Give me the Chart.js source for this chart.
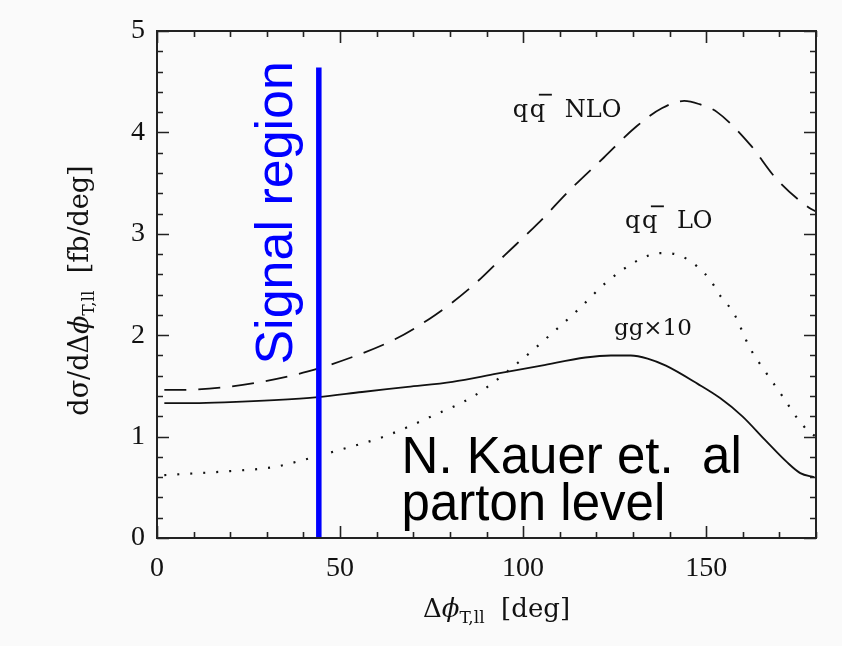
<!DOCTYPE html>
<html>
<head>
<meta charset="utf-8">
<script src="https://cdn.jsdelivr.net/npm/chart.js@4/dist/chart.umd.min.js"></script>
<style>
  html, body { margin: 0; padding: 0; background: #fafafa; }
  canvas { display: block; }
</style>
</head>
<body>
<canvas id="c" width="842" height="646"></canvas>
<script>
// ---- data ----
const nloX = [2, 5, 18, 30, 41, 53, 65, 76, 86, 95, 104, 113, 122, 131, 138, 144, 148, 153, 162, 169, 178, 180];
const nloY = [1.46, 1.46, 1.485, 1.55, 1.64, 1.78, 1.96, 2.20, 2.48, 2.79, 3.10, 3.44, 3.75, 4.06, 4.24, 4.31, 4.28, 4.20, 3.88, 3.55, 3.26, 3.22];

const loX = [2, 20, 32, 40, 50, 62, 75, 87, 99, 107, 115, 123, 132, 137.5, 142.5, 147.5, 151, 154, 157.5, 162, 166, 171, 174.5, 178, 180];
const loY = [0.62, 0.66, 0.70, 0.77, 0.87, 1.0, 1.2, 1.41, 1.74, 1.99, 2.25, 2.53, 2.75, 2.81, 2.79, 2.68, 2.55, 2.38, 2.22, 1.87, 1.65, 1.39, 1.20, 1.05, 1.0];

const ggX = [2, 10, 20, 32, 44, 56, 68.5, 80.7, 92.8, 105, 117, 124, 129.4, 134, 139, 147.7, 153.8, 159.9, 166, 172, 175.7, 179.5];
const ggY = [1.33, 1.33, 1.34, 1.36, 1.39, 1.44, 1.49, 1.54, 1.62, 1.70, 1.78, 1.80, 1.80, 1.77, 1.70, 1.52, 1.38, 1.20, 0.97, 0.75, 0.64, 0.60];

const signalX = [44.2, 44.2];
const signalY = [0, 4.64];

const xTicks = [0, 50, 100, 150];
const yTicks = [0, 1, 2, 3, 4, 5];

const labelNLO = 'NLO';
const labelLO = 'LO';
const labelGG = 'gg\u00d710';
const signalText = 'Signal region';
const authorText = ['N. Kauer et.  al', 'parton level'];

// ---- helpers ----
const pts = (xs, ys) => xs.map((x, i) => ({ x: x, y: ys[i] }));

function drawRich(ctx, parts, x, y, align) {
  let total = 0;
  parts.forEach(p => { ctx.font = p.font; p.w = ctx.measureText(p.t).width; total += p.w; });
  let cx = align === 'center' ? x - total / 2 : x;
  parts.forEach(p => {
    ctx.font = p.font;
    ctx.fillText(p.t, cx, y + (p.dy || 0));
    cx += p.w;
  });
}

function drawQQbar(ctx, x, y) {
  ctx.fillText('q', x, y);
  ctx.fillText('q', x + 17, y);
  ctx.beginPath();
  ctx.moveTo(x + 26, y - 22); ctx.lineTo(x + 39, y - 22);
  ctx.stroke();
}

const decor = {
  id: 'decor',
  beforeDraw(chart) {
    const ctx = chart.ctx;
    ctx.save();
    ctx.fillStyle = '#fafafa';
    ctx.fillRect(0, 0, chart.width, chart.height);
    ctx.restore();
  },
  afterDatasetsDraw(chart) {
    const ctx = chart.ctx;
    const a = chart.chartArea;
    const xs = chart.scales.x, ys = chart.scales.y;
    ctx.save();
    ctx.strokeStyle = '#222';
    ctx.lineWidth = 1.6;
    // ticks on all four sides
    ctx.beginPath();
    for (let v = 0; v <= 180; v += 10) {
      const px = Math.round(xs.getPixelForValue(v)) + 0.5;
      const len = v % 50 === 0 ? 12 : 6;
      ctx.moveTo(px, a.bottom); ctx.lineTo(px, a.bottom - len);
      ctx.moveTo(px, a.top); ctx.lineTo(px, a.top + len);
    }
    for (let i = 0; i <= 25; i++) {
      const py = Math.round(ys.getPixelForValue(i * 0.2)) + 0.5;
      const len = i % 5 === 0 ? 12 : 6;
      ctx.moveTo(a.left, py); ctx.lineTo(a.left + len, py);
      ctx.moveTo(a.right, py); ctx.lineTo(a.right - len, py);
    }
    ctx.stroke();
    // frame
    ctx.lineWidth = 2;
    ctx.strokeRect(a.left, a.top, a.right - a.left, a.bottom - a.top);

    // curve labels
    ctx.fillStyle = '#111';
    ctx.strokeStyle = '#111';
    ctx.textBaseline = 'alphabetic';
    ctx.textAlign = 'left';
    ctx.font = '24px "DejaVu Serif"';
    ctx.lineWidth = 1.8;
    // qq NLO
    let by = ys.getPixelForValue(4.155);
    drawQQbar(ctx, xs.getPixelForValue(97.2), by);
    ctx.fillText(labelNLO, xs.getPixelForValue(111.4), by);
    // qq LO
    by = ys.getPixelForValue(3.054);
    drawQQbar(ctx, xs.getPixelForValue(127.8), by);
    ctx.fillText(labelLO, xs.getPixelForValue(142.0), by);
    // gg x10
    ctx.font = '23px "DejaVu Serif"';
    ctx.fillText(labelGG, xs.getPixelForValue(124.8), ys.getPixelForValue(2.0));

    // author text
    ctx.fillStyle = '#000';
    ctx.font = '51px "Liberation Sans"';
    ctx.fillText(authorText[0], xs.getPixelForValue(66.8), ys.getPixelForValue(0.641));
    ctx.fillText(authorText[1], xs.getPixelForValue(66.8), ys.getPixelForValue(0.178));

    // Signal region (rotated)
    ctx.save();
    ctx.translate(xs.getPixelForValue(36.9), ys.getPixelForValue(1.71));
    ctx.rotate(-Math.PI / 2);
    ctx.fillStyle = '#0000ff';
    ctx.font = '52px "Liberation Sans"';
    ctx.fillText(signalText, 0, 0);
    ctx.restore();

    // axis titles
    ctx.fillStyle = '#111';
    const tf = '26px "DejaVu Serif"', sf = '17px "DejaVu Serif"', gf = 'italic 26px "DejaVu Serif"';
    drawRich(ctx, [
      { t: '\u0394', font: tf },
      { t: '\u03d5', font: gf },
      { t: 'T,ll', font: sf, dy: 6 },
      { t: '  [deg]', font: tf }
    ], (a.left + a.right) / 2 + 10, 617, 'center');

    ctx.save();
    ctx.translate(88, (a.top + a.bottom) / 2 + 6);
    ctx.rotate(-Math.PI / 2);
    drawRich(ctx, [
      { t: 'd\u03c3/d\u0394', font: '27px "DejaVu Serif"' },
      { t: '\u03d5', font: 'italic 27px "DejaVu Serif"' },
      { t: 'T,ll', font: sf, dy: 6 },
      { t: '  [fb/deg]', font: '27px "DejaVu Serif"' }
    ], 0, 0, 'center');
    ctx.restore();
    ctx.restore();
  }
};

const tickFont = { family: '"Liberation Serif", serif', size: 28 };

new Chart(document.getElementById('c'), {
  type: 'scatter',
  data: {
    datasets: [
      { data: pts(signalX, signalY), showLine: true, borderColor: '#0000ff', borderWidth: 5.5, pointRadius: 0, borderCapStyle: 'butt' },
      { data: pts(nloX, nloY), showLine: true, borderColor: '#111', borderWidth: 1.8, borderDash: [22, 12], pointRadius: 0, cubicInterpolationMode: 'monotone' },
      { data: pts(loX, loY), showLine: true, borderColor: '#111', borderWidth: 2.2, borderDash: [2, 11], pointRadius: 0, cubicInterpolationMode: 'monotone' },
      { data: pts(ggX, ggY), showLine: true, borderColor: '#111', borderWidth: 1.8, pointRadius: 0, cubicInterpolationMode: 'monotone' }
    ]
  },
  options: {
    responsive: false,
    animation: false,
    events: [],
    layout: { padding: { left: 0, top: 31, right: 26, bottom: 0 } },
    plugins: { legend: { display: false }, tooltip: { enabled: false } },
    scales: {
      x: {
        type: 'linear', min: 0, max: 180,
        afterBuildTicks: s => { s.ticks = xTicks.map(v => ({ value: v })); },
        afterFit: s => { s.height = 108; },
        grid: { display: false, drawTicks: false },
        border: { display: false },
        ticks: { font: tickFont, color: '#111', padding: 14, maxRotation: 0, autoSkip: false }
      },
      y: {
        type: 'linear', min: 0, max: 5,
        afterBuildTicks: s => { s.ticks = yTicks.map(v => ({ value: v })); },
        afterFit: s => { s.width = 157; },
        grid: { display: false, drawTicks: false },
        border: { display: false },
        ticks: { font: tickFont, color: '#111', padding: 12, autoSkip: false }
      }
    }
  },
  plugins: [decor]
});
</script>
</body>
</html>
